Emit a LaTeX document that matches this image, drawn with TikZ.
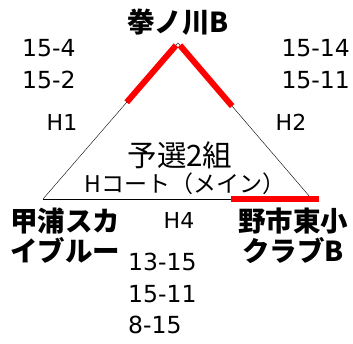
\documentclass[tikz,border=0pt]{standalone}
\usepackage{fontspec}
\setmainfont{Noto Sans CJK JP}
\newfontfamily\scorefont{DejaVu Sans}
\usepackage{tikz}
\usetikzlibrary{calc}

\begin{document}
\begin{tikzpicture}[x=1pt,y=-1pt,
	team/.style={font=\fontsize{27.5}{30}\selectfont\bfseries, align=center, inner sep=0pt},
	score/.style={font=\fontsize{23.5}{31.7}\selectfont\scorefont, align=left, inner sep=0pt},
	hall/.style={font=\fontsize{22}{26}\selectfont\scorefont, inner sep=0pt},
	court/.style={font=\fontsize{23}{29}\selectfont, inner sep=0pt},
	win/.style={red, line width=6pt}]
	\useasboundingbox (0,0) rectangle (353,343);
	\coordinate (top) at (178,43);
	\coordinate (left) at (43,199);
	\coordinate (right) at (310,197);
	\draw (left) -- (top) -- (right);
	\draw (left) -- (231,199) coordinate (mid);
	\draw[win] ($(left)!0.62!(top)$) -- ($(left)!0.985!(top)$);
	\draw[win] ($(top)!0.015!(right)$) -- ($(top)!0.41!(right)$);
	\draw[win] (mid) -- (319,199) coordinate (end);
	\node[team] (kobushi) at (178,22) {拳ノ川B};
	\node[team, align=left] (konoura) at (65,236) {甲浦スカ\\イブルー};
	\node[team] (noichi) at (293,236) {野市東小\\クラブB};
	\node[score, anchor=west] (s1) at (22,64) {15-4\\15-2};
	\node[score, anchor=east] (s2) at (350,64) {15-14\\15-11};
	\node[score, anchor=west] (s4) at (128,293.5) {13-15\\15-11\\8-15};
	\node[hall] (h1) at (62,122) {H1};
	\node[hall] (h2) at (291,122) {H2};
	\node[hall] (h4) at (179,220) {H4};
	\node[court, font=\fontsize{29.5}{30}\selectfont] (group) at (180,155) {予選2組};
	\node[court] (hcourt) at (185,184) {Hコート（メイン）};
\end{tikzpicture}
\end{document}
